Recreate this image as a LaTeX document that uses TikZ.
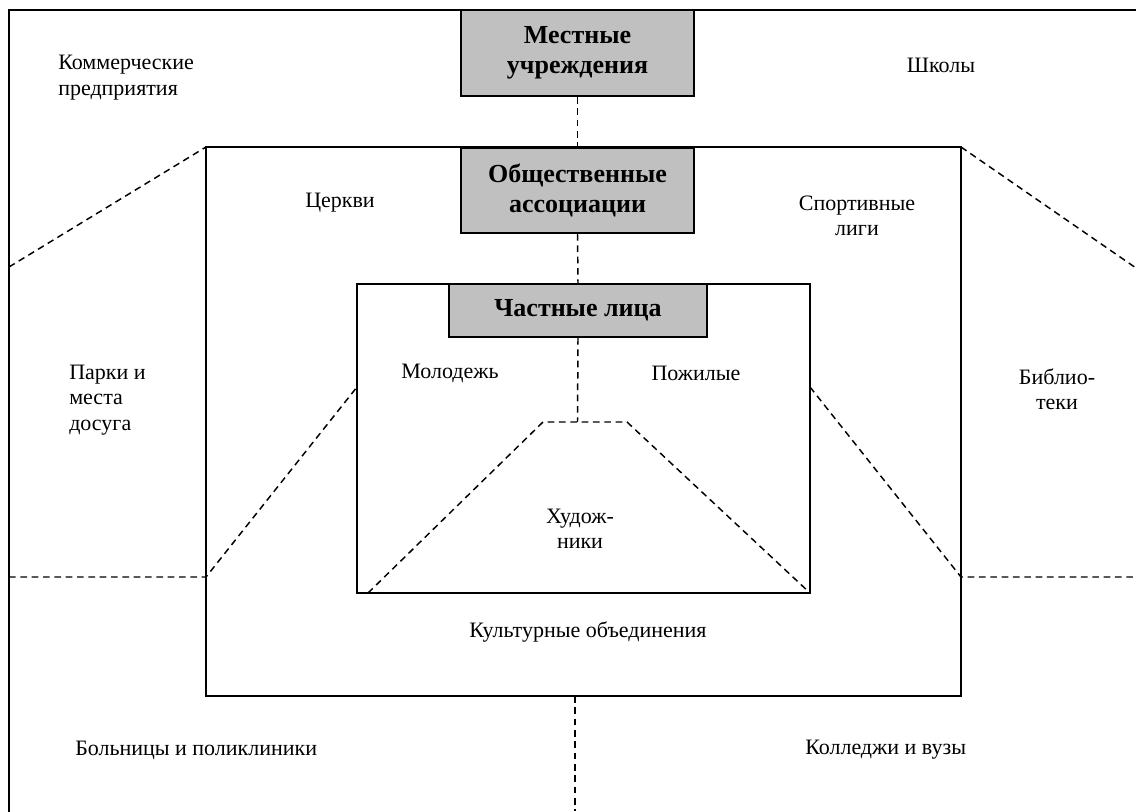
\documentclass[tikz,border=0pt]{standalone}
\usepackage{fontspec}
\setmainfont{Liberation Serif}
\definecolor{boxgray}{RGB}{192,192,192}
\begin{document}
\begin{tikzpicture}[x=0.75pt,y=-0.75pt,
  gbox/.style={draw, line width=1.5pt, fill=boxgray, align=center, inner sep=0pt,
    font=\bfseries\fontsize{19.5}{22.5}\selectfont},
  lbl/.style={align=center, inner sep=0pt, font=\fontsize{16.5}{19}\selectfont},
  dsh/.style={dash pattern=on 5pt off 3.5pt, line width=1.1pt},
  frame/.style={line width=1.2pt}]
\useasboundingbox (0,0) rectangle (1136,811);
\clip (0,0) rectangle (1136,811);
% outer frame (cut by the page on right and bottom)
\coordinate (o-nw) at (9,10);
\coordinate (o-se) at (1150,830);
\draw[line width=1.5pt] (o-nw) rectangle (o-se);
% middle and inner frames
\coordinate (m-nw) at (206,147);
\coordinate (m-ne) at (961,147);
\coordinate (m-se) at (961,696);
\coordinate (m-sw) at (206,696);
\draw[frame] (m-nw) rectangle (m-se);
\coordinate (i-nw) at (357,284);
\coordinate (i-se) at (810,593);
\draw[frame] (i-nw) rectangle (i-se);
% gray boxes
\node[gbox, minimum width=174.75pt, minimum height=64.5pt] (loc) at (577.5,53) {Местные\\учреждения};
\node[gbox, minimum width=174.75pt, minimum height=63.75pt] (assoc) at (577.5,190.5) {Общественные\\ассоциации};
\node[gbox, minimum width=193.5pt, minimum height=39.75pt] (priv) at (578,310.5) {Частные лица};
% helper coordinates
\coordinate (tTop) at (577.5,422);
\coordinate (tTL) at (543,422);
\coordinate (tTR) at (627,422);
\coordinate (tBL) at (368,593);
\coordinate (tBR) at (810,593);
\coordinate (lTop) at (9,267);
\coordinate (rTop) at (1136,268);
\coordinate (lMid) at (9,577);
\coordinate (lKnee) at (206,577);
\coordinate (lIn) at (357,387);
\coordinate (rIn) at (810,387);
\coordinate (rKnee) at (961,577);
\coordinate (rMid) at (1136,577);
\coordinate (bTop) at (575,696);
\coordinate (bBot) at (575,811);
% dashed connectors
\draw[dsh] (loc.south) -- (assoc.north);
\draw[dsh] (assoc.south) -- (priv.north);
\draw[dsh] (priv.south) -- (tTop);
\draw[dsh] (tBL) -- (tTL) -- (tTR) -- (tBR);
\draw[dsh] (lTop) -- (m-nw);
\draw[dsh] (m-ne) -- (rTop);
\draw[dsh] (lMid) -- (lKnee) -- (lIn);
\draw[dsh] (rIn) -- (rKnee) -- (rMid);
\draw[dsh] (bTop) -- (bBot);
% labels
\node[lbl, align=left, anchor=west] (comm) at (58,77.5) {Коммерческие\\предприятия};
\node[lbl] (school) at (941,65) {Школы};
\node[lbl] (church) at (340,203) {Церкви};
\node[lbl] (sport) at (857,216) {Спортивные\\лиги};
\node[lbl, align=left, anchor=west] (parks) at (69,400) {Парки и\\места\\досуга};
\node[lbl] (lib) at (1057,389) {Библио-\\теки};
\node[lbl] (youth) at (450,373) {Молодежь};
\node[lbl] (old) at (696,373) {Пожилые};
\node[lbl] (art) at (580,529) {Худож-\\ники};
\node[lbl] (cult) at (588,632) {Культурные объединения};
\node[lbl, anchor=west] (hosp) at (75,750) {Больницы и поликлиники};
\node[lbl, anchor=west] (coll) at (805,750) {Колледжи и вузы};
\end{tikzpicture}
\end{document}
